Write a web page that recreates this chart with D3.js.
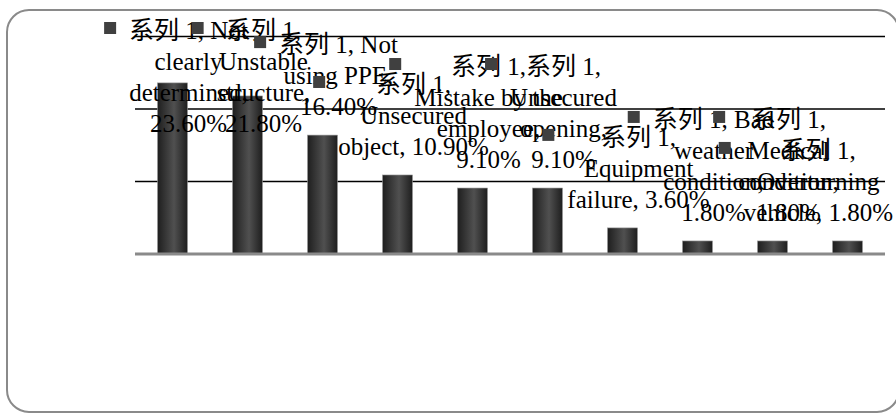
<!DOCTYPE html>
<html>
<head>
<meta charset="utf-8">
<script src="https://cdn.jsdelivr.net/npm/d3@7"></script>
<style>
  html, body { margin: 0; padding: 0; background: #fff; }
  svg { display: block; }
</style>
</head>
<body>
<svg id="chart" width="896" height="414"></svg>
<script>
const seriesName = "系列 1";
const categories = [
  "Not clearly determined",
  "Unstable structure",
  "Not using PPE",
  "Unsecured object",
  "Mistake by the employee",
  "Unsecured opening",
  "Equipment failure",
  "Bad weather condition",
  "Medical condition",
  "Overturning vehicle"
];
const values = [23.6, 21.8, 16.4, 10.9, 9.1, 9.1, 3.6, 1.8, 1.8, 1.8];
const gridTicks = [10, 20, 30];

const svg = d3.select("#chart");
const W = 896, H = 414;
const FONT = "'Liberation Serif', 'Times New Roman', 'Noto Sans CJK SC', serif";
const FS = 25, LH = 31, WRAP = 156;

// gradient for bars
const defs = svg.append("defs");
const grad = defs.append("linearGradient").attr("id", "barGrad")
  .attr("x1", "0%").attr("x2", "100%").attr("y1", "0%").attr("y2", "0%");
grad.append("stop").attr("offset", "0%").attr("stop-color", "#1e1e1e");
grad.append("stop").attr("offset", "55%").attr("stop-color", "#505050");
grad.append("stop").attr("offset", "100%").attr("stop-color", "#1e1e1e");

// chart frame
svg.append("rect")
  .attr("x", 7).attr("y", 10).attr("width", 892).attr("height", 402)
  .attr("rx", 22).attr("ry", 22)
  .attr("fill", "#fff").attr("stroke", "#8a8a8a").attr("stroke-width", 2);

const x = d3.scaleBand().domain(categories).range([135, 885])
  .paddingInner(0.6).paddingOuter(0.3);
const y = d3.scaleLinear().domain([0, 30]).range([254, 36.5]);

// gridlines
svg.append("g").selectAll("line").data(gridTicks).join("line")
  .attr("x1", 135).attr("x2", 885)
  .attr("y1", d => y(d)).attr("y2", d => y(d))
  .attr("stroke", "#000").attr("stroke-width", 1.5);

// bars
svg.append("g").selectAll("rect").data(values).join("rect")
  .attr("x", (d, i) => x(categories[i]))
  .attr("y", d => y(d))
  .attr("width", x.bandwidth())
  .attr("height", d => y(0) - y(d))
  .attr("fill", "url(#barGrad)")
  .attr("stroke", "#9a9a9a").attr("stroke-width", 0.6);

// baseline
svg.append("line")
  .attr("x1", 135).attr("x2", 885).attr("y1", y(0)).attr("y2", y(0))
  .attr("stroke", "#8a8a8a").attr("stroke-width", 3);

// measuring helper
const meas = svg.append("text").attr("font-family", FONT).attr("font-size", FS)
  .attr("visibility", "hidden");
function tw(s) { meas.text(s); return meas.node().getComputedTextLength(); }
function wrap(str) {
  const words = str.split(" ");
  const lines = [];
  let cur = "";
  for (const w of words) {
    const t = cur ? cur + " " + w : w;
    if (cur && tw(t) > WRAP) { lines.push(cur); cur = w; }
    else cur = t;
  }
  if (cur) lines.push(cur);
  return lines;
}

// data labels
const labels = svg.append("g");
values.forEach((v, i) => {
  const c = categories[i];
  const txt = `${seriesName}, ${c}, ${v.toFixed(2)}%`;
  const lines = wrap(txt);
  const maxW = d3.max(lines, tw);
  let cx = x(c) + x.bandwidth() / 2 + 16;
  if (cx + maxW / 2 > 893) cx = 893 - maxW / 2;
  let lastBase = y(v) - 20;
  let firstBase = lastBase - LH * (lines.length - 1);
  if (firstBase < 39) firstBase = 39;
  const g = labels.append("g");
  const boxLeft = cx - maxW / 2;
  g.append("rect")
    .attr("x", boxLeft - 13 - 12).attr("y", firstBase - 17)
    .attr("width", 12).attr("height", 12)
    .attr("fill", "#404040");
  lines.forEach((ln, k) => {
    g.append("text")
      .attr("x", cx).attr("y", firstBase + k * LH)
      .attr("text-anchor", "middle")
      .attr("font-family", FONT).attr("font-size", FS)
      .attr("fill", "#000")
      .text(ln);
  });
});
meas.remove();
</script>
</body>
</html>
